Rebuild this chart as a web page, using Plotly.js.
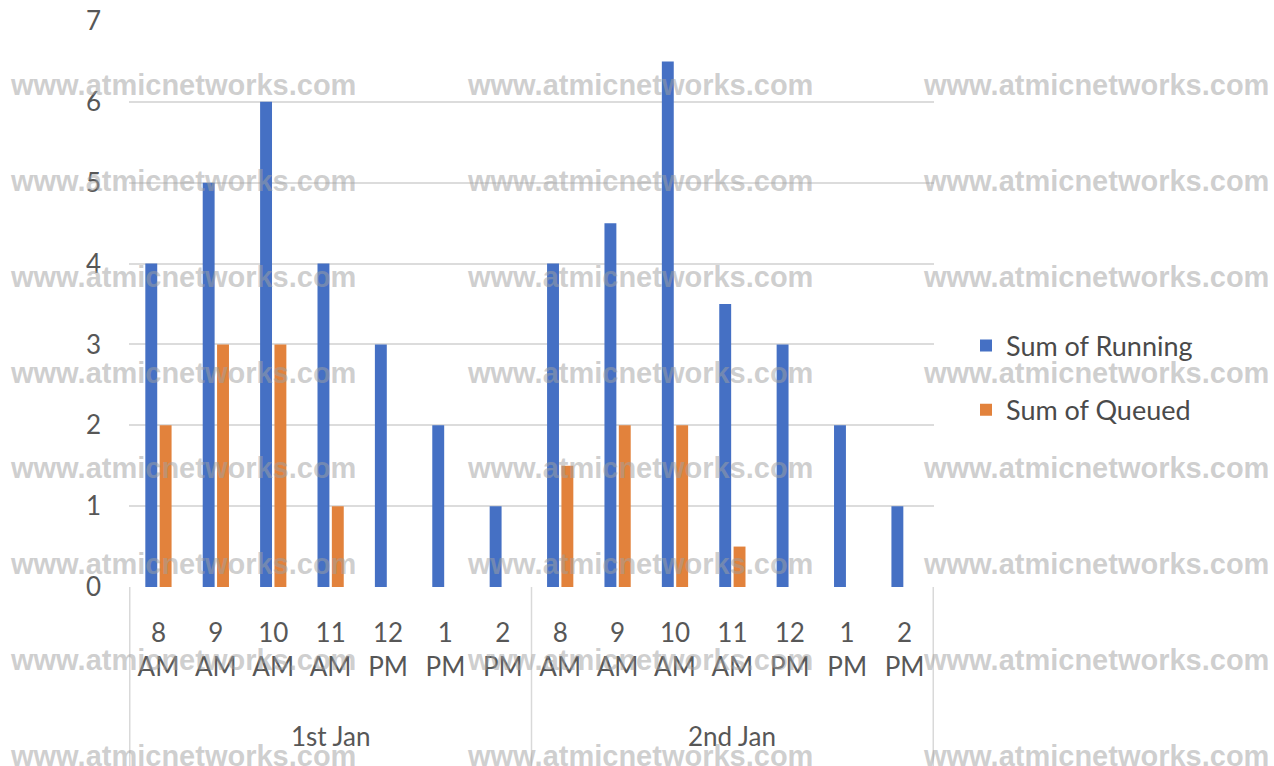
<!DOCTYPE html>
<html>
<head>
<meta charset="utf-8">
<script src="https://cdn.plot.ly/plotly-3.0.1.min.js"></script>
<style>html,body{margin:0;padding:0;background:#fff;}#chart{width:1274px;height:766px;}</style>
</head>
<body>
<div id="chart"></div>
<script>
// ---- data ----
var days = ['1st Jan', '2nd Jan'];
var hours = ['8 AM', '9 AM', '10 AM', '11 AM', '12 PM', '1 PM', '2 PM'];
var running = {
  '1st Jan': [4, 5, 6, 4, 3, 2, 1],
  '2nd Jan': [4, 4.5, 6.5, 3.5, 3, 2, 1]
};
var queued = {
  '1st Jan': [2, 3, 3, 1, 0, 0, 0],
  '2nd Jan': [1.5, 2, 2, 0.5, 0, 0, 0]
};
var seriesNames = ['Sum of Running', 'Sum of Queued'];
var yTicks = [0, 1, 2, 3, 4, 5, 6, 7];
var watermark = 'www.atmicnetworks.com';

// ---- build ----
var xKeys = [], xText = [], runVals = [], queVals = [];
days.forEach(function (d) {
  hours.forEach(function (h, i) {
    xKeys.push(d + ' ' + h);
    xText.push(h.replace(' ', '<br>'));
    runVals.push(running[d][i]);
    queVals.push(queued[d][i]);
  });
});

var W = 1274, H = 766;
var M = {l: 129, r: 340, t: 21, b: 179};
var pw = W - M.l - M.r, ph = H - M.t - M.b;
function px2x(px) { return (px - M.l) / pw; }
function px2y(py) { return (H - M.b - py) / ph; }

var tickFont = {family: 'Lato, "Noto Sans", sans-serif', size: 26, color: '#575757'};

var traces = [
  {type: 'bar', name: seriesNames[0], x: xKeys, y: runVals, legendgroup: 'a',
   marker: {color: '#4570c4', line: {width: 0}}},
  {type: 'bar', name: seriesNames[1], x: xKeys, y: queVals, legendgroup: 'b',
   marker: {color: '#e2823c', line: {width: 0}}}
];

var annotations = [];
var groupSize = hours.length;
days.forEach(function (d, k) {
  annotations.push({
    xref: 'x', yref: 'paper', x: k * groupSize + (groupSize - 1) / 2, y: px2y(736),
    text: d, showarrow: false, xanchor: 'center', yanchor: 'middle', font: tickFont
  });
});

// watermark
var wmCols = [183, 640, 1096];
var wmRows = [85, 181, 277, 373, 468, 564, 660, 756];
wmRows.forEach(function (r) {
  wmCols.forEach(function (c) {
    annotations.push({
      xref: 'paper', yref: 'paper', x: px2x(c), y: px2y(r), text: watermark,
      showarrow: false, xanchor: 'center', yanchor: 'middle',
      font: {family: '"Liberation Sans", Arial, sans-serif', size: 29, color: 'rgba(160,160,160,0.5)', weight: 'bold'}
    });
  });
});

var shapes = [];
var bounds = [-0.5, groupSize - 0.5, days.length * groupSize - 0.5];
bounds.forEach(function (b) {
  shapes.push({type: 'line', xref: 'x', yref: 'paper', x0: b, x1: b, y0: 0, y1: px2y(H + 5),
    line: {color: '#d9d9d9', width: 1.5}, layer: 'below'});
});

var layout = {
  width: W, height: H,
  margin: M,
  paper_bgcolor: '#ffffff', plot_bgcolor: '#ffffff',
  barmode: 'group', bargap: 0.5, bargroupgap: 0.17,
  showlegend: true,
  legend: {x: px2x(966), y: px2y(378), xanchor: 'left', yanchor: 'middle',
    font: {family: 'Lato, "Noto Sans", sans-serif', size: 27, color: '#4a4a4a'},
    tracegroupgap: 26, bgcolor: 'rgba(0,0,0,0)'},
  xaxis: {type: 'category', tickvals: xKeys, ticktext: xText, tickfont: tickFont,
    showgrid: false, zeroline: false, showline: false, ticks: '', ticklabelstandoff: 28,
    fixedrange: true},
  yaxis: {range: [0, 7], tickvals: yTicks, tickfont: tickFont, showgrid: true,
    gridcolor: '#dcdcdc', gridwidth: 2, zeroline: false, showline: false, ticks: '',
    ticklabelstandoff: 27, fixedrange: true},
  annotations: annotations,
  shapes: shapes
};

Plotly.newPlot('chart', traces, layout, {displayModeBar: false, staticPlot: true});
</script>
</body>
</html>
